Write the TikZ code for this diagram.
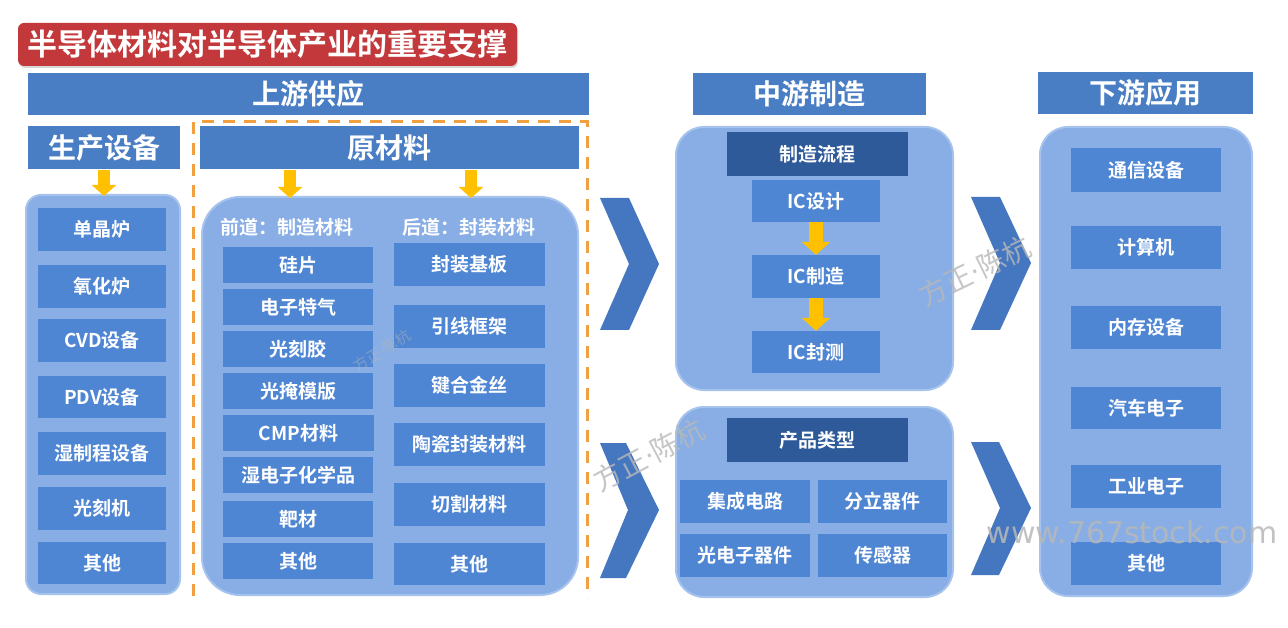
\documentclass[tikz,border=0pt]{standalone}
\usepackage{fontspec}
\setmainfont{Noto Sans CJK SC}[BoldFont=* Bold]
\newfontfamily\wmfont{DejaVu Sans}
\usetikzlibrary{shadows,arrows.meta,calc}
\definecolor{titlered}{HTML}{C3393B}
\definecolor{hdrblue}{HTML}{4A7EC4}
\definecolor{itemblue}{HTML}{4F86D3}
\definecolor{contblue}{HTML}{88AEE5}
\definecolor{contedge}{HTML}{A6C3EE}
\definecolor{darkblue}{HTML}{2F5A9A}
\definecolor{chevblue}{HTML}{4577C0}
\definecolor{arryellow}{HTML}{FFC000}
\definecolor{dashorange}{HTML}{F0A040}
\definecolor{wmgray}{HTML}{B8B8B8}
\newcommand\mybox[7]{\node[#2, minimum width={(#5-#3)*1pt}, minimum height={(#6-#4)*1pt}] (#1) at ({(#3+#5)/2},{(#4+#6)/2}) {#7};}
\newcommand\wmtext{方正{\wmfont·}陈杭}
\tikzset{
  hdr/.style={fill=hdrblue, text=white, inner sep=0pt, font=\bfseries\fontsize{28}{28}\selectfont},
  item/.style={fill=itemblue, text=white, inner sep=0pt, font=\bfseries\fontsize{19}{19}\selectfont},
  darkbox/.style={fill=darkblue, text=white, inner sep=0pt, font=\bfseries\fontsize{19}{19}\selectfont},
  cont/.style={fill=contblue, draw=contedge, line width=2pt, inner sep=0pt},
  sublabel/.style={text=white, inner sep=0pt, font=\bfseries\fontsize{19}{19}\selectfont},
  yarr/.style={draw=arryellow, line width=12pt, -{Triangle[width=24pt,length=11pt]}},
  yarrbig/.style={draw=arryellow, line width=14pt, -{Triangle[width=28pt,length=13pt]}},
  chev/.style={fill=chevblue},
  wm/.style={text=wmgray, inner sep=0pt, font=\fontsize{28}{28}\selectfont},
}
\begin{document}
\begin{tikzpicture}[x=1pt,y=-1pt]
\useasboundingbox[fill=white] (0,0) rectangle (1288,628);
% title
\mybox{title}{fill=titlered, text=white, rounded corners=6pt, inner sep=0pt, drop shadow={opacity=0.3,shadow xshift=1pt,shadow yshift=-2pt}, font=\bfseries\fontsize{30}{30}\selectfont}{18}{23}{517}{66}{半导体材料对半导体产业的重要支撑}
% headers
\mybox{up}{hdr}{28}{73}{589}{115}{上游供应}
\mybox{mid}{hdr}{693}{73}{926}{115}{中游制造}
\mybox{down}{hdr}{1038}{72}{1253}{114}{下游应用}
\mybox{equip}{hdr}{28}{126}{180}{169}{生产设备}
\mybox{raw}{hdr}{200}{126}{579}{169}{原材料}
% dashed frame
\draw[dashorange, line width=3pt, dash pattern=on 12pt off 9pt] (193,596) -- (193,122) -- (587,122) -- (587,598);
% containers
\mybox{equipc}{cont, rounded corners=15pt}{26}{195}{180}{594}{}
\mybox{rawc}{cont, rounded corners=38pt}{202}{197}{578}{595}{}
\mybox{flowc}{cont, rounded corners=28pt}{676}{127}{953}{390}{}
\mybox{prodc}{cont, rounded corners=28pt}{676}{407}{953}{597}{}
\mybox{appc}{cont, rounded corners=28pt}{1040}{127}{1252}{596}{}
% yellow arrows
\draw[yarr, shorten <=1pt] (equip.south) -- ([yshift=-2pt]equip.south |- equipc.north);
\draw[yarr, shorten <=1pt] ([xshift=-99.5pt]raw.south) -- ([xshift=-99.5pt,yshift=-2pt]raw.south |- rawc.north);
\draw[yarr, shorten <=1pt] ([xshift=81.5pt]raw.south) -- ([xshift=81.5pt,yshift=-2pt]raw.south |- rawc.north);
% equipment items
\mybox{e1}{item}{38}{208}{166}{251}{单晶炉}
\mybox{e2}{item}{38}{265}{166}{308}{氧化炉}
\mybox{e3}{item}{38}{319}{166}{362}{CVD设备}
\mybox{e4}{item}{38}{376}{166}{418}{PDV设备}
\mybox{e5}{item}{38}{432}{166}{475}{湿制程设备}
\mybox{e6}{item}{38}{487}{166}{530}{光刻机}
\mybox{e7}{item}{38}{542}{166}{584}{其他}
% raw material labels
\node[sublabel] (front) at (287,227) {前道：制造材料};
\node[sublabel] (back) at (469,227) {后道：封装材料};
% front-end materials
\mybox{f1}{item}{223}{247}{373}{283}{硅片}
\mybox{f2}{item}{223}{289}{373}{325}{电子特气}
\mybox{f3}{item}{223}{331}{373}{367}{光刻胶}
\mybox{f4}{item}{223}{373}{373}{409}{光掩模版}
\mybox{f5}{item}{223}{415}{374}{451}{CMP材料}
\mybox{f6}{item}{223}{457}{373}{493}{湿电子化学品}
\mybox{f7}{item}{223}{501}{373}{537}{靶材}
\mybox{f8}{item}{223}{543}{373}{579}{其他}
% back-end materials
\mybox{b1}{item}{394}{243}{545}{286}{封装基板}
\mybox{b2}{item}{394}{305}{545}{348}{引线框架}
\mybox{b3}{item}{394}{364}{545}{407}{键合金丝}
\mybox{b4}{item}{394}{423}{545}{466}{陶瓷封装材料}
\mybox{b5}{item}{394}{483}{545}{526}{切割材料}
\mybox{b6}{item}{394}{543}{545}{585}{其他}
% chevrons
\fill[chev] (600,198) -- (629,198) -- (659,264) -- (629,330) -- (600,330) -- (629,264) -- cycle;
\fill[chev] (600,443) -- (626,443) -- (659,510) -- (626,578) -- (600,578) -- (628,510) -- cycle;
\fill[chev] (971,197) -- (1000,197) -- (1031,263) -- (1000,330) -- (971,330) -- (1000,263) -- cycle;
\fill[chev] (971,442) -- (999,442) -- (1031,508) -- (999,575) -- (971,575) -- (1000,508) -- cycle;
% manufacturing flow
\mybox{flow}{darkbox}{727}{132}{908}{176}{制造流程}
\mybox{ic1}{item}{752}{180}{880}{222}{IC设计}
\mybox{ic2}{item}{752}{255}{880}{298}{IC制造}
\mybox{ic3}{item}{752}{331}{880}{373}{IC封测}
\draw[yarrbig] (ic1.south) -- (ic2.north);
\draw[yarrbig] (ic2.south) -- (ic3.north);
% product types
\mybox{ptype}{darkbox}{727}{418}{908}{462}{产品类型}
\mybox{p1}{item}{680}{480}{810}{523}{集成电路}
\mybox{p2}{item}{818}{480}{947}{523}{分立器件}
\mybox{p3}{item}{680}{534}{810}{577}{光电子器件}
\mybox{p4}{item}{818}{534}{947}{577}{传感器}
% applications
\mybox{a1}{item}{1071}{148}{1221}{192}{通信设备}
\mybox{a2}{item}{1071}{226}{1221}{269}{计算机}
\mybox{a3}{item}{1071}{306}{1221}{349}{内存设备}
\mybox{a4}{item}{1071}{387}{1221}{429}{汽车电子}
\mybox{a5}{item}{1071}{465}{1221}{508}{工业电子}
\mybox{a6}{item}{1071}{542}{1221}{585}{其他}
% watermarks
\node[wm, rotate=28, opacity=0.8] (wm1) at (649,455) {\wmtext};
\node[wm, rotate=26, opacity=0.8] (wm2) at (975,271) {\wmtext};
\node[wm, rotate=31, opacity=0.45, font=\fontsize{15}{15}\selectfont] (wm3) at (382,351) {\wmtext};
\node[text=wmgray, inner sep=0pt, font=\wmfont\fontsize{30}{30}\selectfont, opacity=0.85] (wm4) at (1132,532) {www.767stock.com};
\end{tikzpicture}
\end{document}
